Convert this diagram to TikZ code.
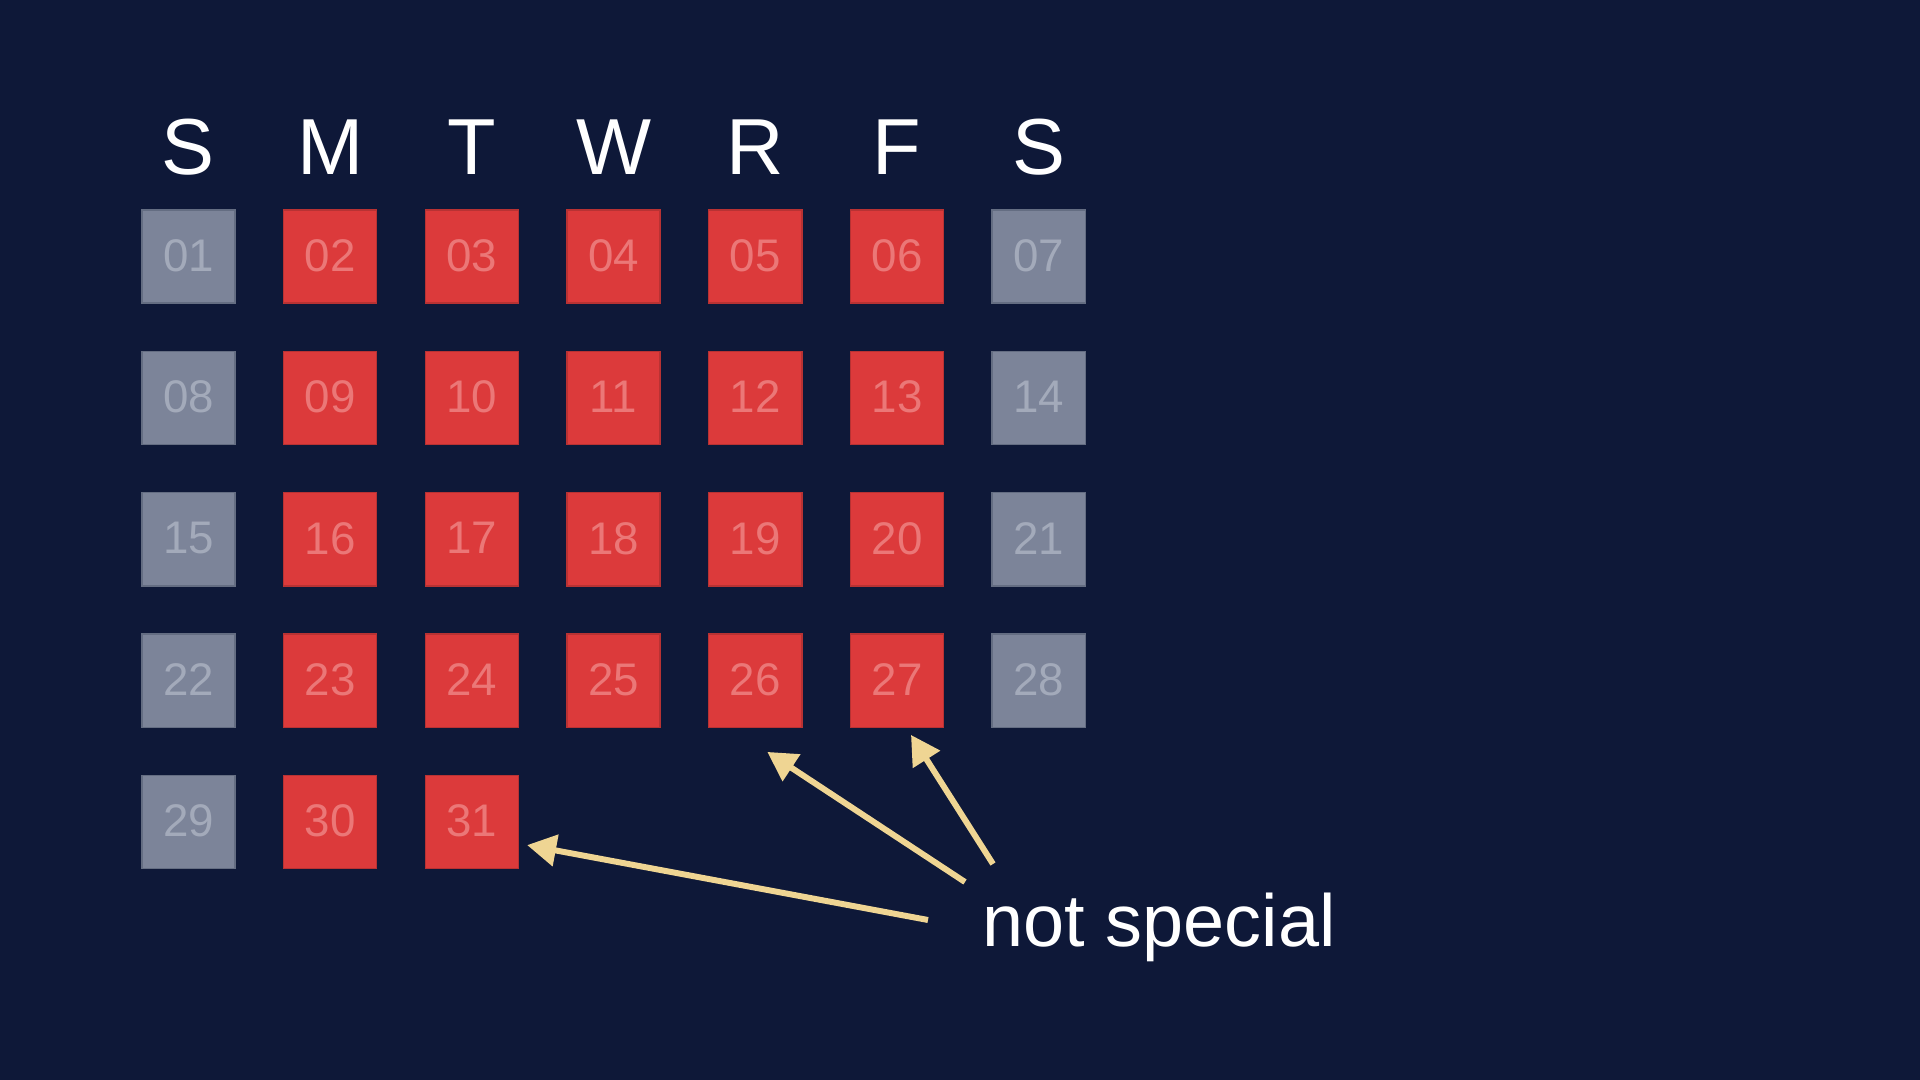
\documentclass[tikz,border=0pt]{standalone}
\usepackage{fontspec}
\setmainfont{Liberation Sans}
\usetikzlibrary{arrows.meta,calc}

\definecolor{night}{HTML}{0E1838}
\definecolor{restbox}{HTML}{7C8499}
\definecolor{restline}{HTML}{646D82}
\definecolor{restnum}{HTML}{A3AABA}
\definecolor{workbox}{HTML}{DC3A3B}
\definecolor{workline}{HTML}{B83233}
\definecolor{worknum}{HTML}{EB7777}
\definecolor{pointer}{HTML}{EFD593}

\tikzset{
  day/.style={draw=#1line, fill=#1box, text=#1num, line width=0.4pt,
    minimum size=0.93cm, inner sep=0pt, font=\fontsize{13}{15}\selectfont},
  head/.style={anchor=base, text=white, font=\fontsize{22.6}{27}\selectfont},
  note/.style={anchor=base west, inner sep=0pt, text=white, font=\fontsize{21}{25}\selectfont},
  pointy/.style={draw=pointer, line width=1.7pt, -{Triangle[length=0.29cm,width=0.31cm]}}
}

\begin{document}
\begin{tikzpicture}[x=0.01cm,y=-0.01cm]
    % Background
    \fill[night] (0,0) rectangle (1920,1080);

    % Weekday letters
    \foreach \l [count=\i from 0] in {S,M,T,W,R,F,S}
        \node[head] (h\i) at (188.5+141.7*\i,175) {\l};

    % Days of the month
    \foreach \n in {1,...,31}{
        \pgfmathtruncatemacro\c{mod(\n-1,7)}
        \pgfmathtruncatemacro\r{div(\n-1,7)}
        \ifnum\c=0 \def\kind{rest}\else\ifnum\c=6 \def\kind{rest}\else\def\kind{work}\fi\fi
        \node[day=\kind] (d\n) at (188.5+141.7*\c,256.5+141.4*\r) {\raisebox{0.7pt}{\ifnum\n<10 0\fi\n}};
    }

    % Label and arrows
    \node[note] (ns) at (982,947) {not special};
    \coordinate (t31) at ($(ns.base west)+(-54,-27)$);
    \coordinate (t26) at ($(ns.base west)+(-17,-65)$);
    \coordinate (t27) at ($(ns.base west)+(11,-83)$);
    \coordinate (p31) at ($(d31.east)+(8,23)$);
    \coordinate (p26) at ($(d26.south)+(12,24)$);
    \coordinate (p27) at ($(d27.south)+(14,7)$);
    \draw[pointy] (t31) -- (p31);
    \draw[pointy] (t26) -- (p26);
    \draw[pointy] (t27) -- (p27);
\end{tikzpicture}
\end{document}
